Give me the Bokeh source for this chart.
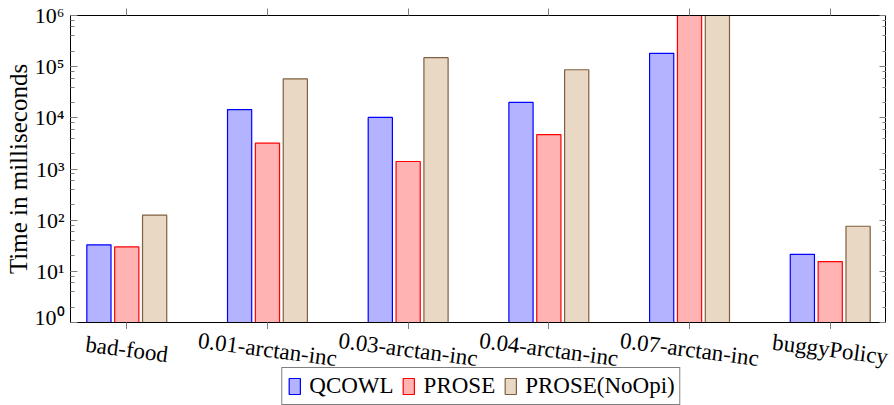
from bokeh.plotting import figure
from bokeh.layouts import column
from bokeh.models import (ColumnDataSource, Range1d, LinearAxis, LogAxis, FixedTicker,
                          LogTicker, CustomJSTickFormatter, Legend, LegendItem)
from bokeh.core.properties import value
from bokeh.transform import dodge
from bokeh.embed import file_html
from bokeh.resources import INLINE

categories = ["bad-food", "0.01-arctan-inc", "0.03-arctan-inc", "0.04-arctan-inc",
              "0.07-arctan-inc", "buggyPolicy"]
qcowl = [33, 14500, 10200, 20000, 182000, 21.5]
prose = [30, 3200, 1400, 4700, 1000000, 15.5]
prose_noopi = [125, 57500, 150000, 87000, 1000000, 76]
series_names = ["QCOWL", "PROSE", "PROSE(NoOpi)"]

FONT = "Liberation Serif"
FILL = ["#b3b3ff", "#ffb3b3", "#e9d8c4"]
LINE = ["#0000ff", "#ff0000", "#7f5f3f"]
FIELDS = ["qcowl", "prose", "noopi"]
OFFSETS = [-0.198, 0.0, 0.198]

src = ColumnDataSource(dict(
    x=list(range(len(categories))),
    cat=categories,
    qcowl=qcowl, prose=prose, noopi=prose_noopi,
))

FW = 816
xr = Range1d(-0.4, len(categories) - 0.6)

p = figure(frame_width=FW, frame_height=307, y_axis_type="log",
           x_range=xr, y_range=Range1d(1, 1e6),
           output_backend="svg", toolbar_location=None,
           min_border_left=70, min_border_right=0, min_border_top=15, min_border_bottom=0)

bw = 0.172
for i in range(3):
    p.vbar(x=dodge("x", OFFSETS[i]), top=FIELDS[i], bottom=1, width=bw, source=src,
           fill_color=FILL[i], line_color=LINE[i], line_width=1.2)

p.xgrid.visible = False
p.ygrid.visible = False
p.outline_line_color = "black"

sup_fmt = CustomJSTickFormatter(code="""
const sup = ["\u2070","\u00b9","\u00b2","\u00b3","\u2074","\u2075","\u2076","\u2077","\u2078","\u2079"];
const e = Math.round(Math.log10(tick));
return "10" + sup[e];
""")
blank_fmt = CustomJSTickFormatter(code="return '';")

xa = p.xaxis[0]
xa.ticker = FixedTicker(ticks=list(range(len(categories))))
xa.formatter = blank_fmt
xa.minor_tick_line_color = None
xa.major_tick_in = 0
xa.major_tick_out = 7
xa.major_tick_line_color = "#808080"
xa.axis_line_color = "black"
xa.major_label_standoff = 0

ya = p.yaxis[0]
ya.ticker = LogTicker()
ya.formatter = sup_fmt
ya.major_tick_in = 7
ya.major_tick_out = 0
ya.minor_tick_in = 4
ya.minor_tick_out = 0
ya.major_tick_line_color = "#808080"
ya.minor_tick_line_color = "#808080"
ya.axis_line_color = "black"
ya.major_label_text_font = FONT
ya.major_label_text_font_size = "22px"
ya.major_label_text_color = "black"
ya.major_label_standoff = 6
ya.axis_label = "Time in milliseconds"
ya.axis_label_text_font = FONT
ya.axis_label_text_font_size = "25px"
ya.axis_label_text_font_style = "normal"
ya.axis_label_text_color = "black"
ya.axis_label_standoff = 0

top = LinearAxis(ticker=FixedTicker(ticks=list(range(len(categories)))),
                 formatter=blank_fmt, major_tick_in=0, major_tick_out=7,
                 major_tick_line_color="#808080", minor_tick_line_color=None,
                 axis_line_color="black", major_label_standoff=0)
p.add_layout(top, "above")
right = LogAxis(ticker=LogTicker(), formatter=blank_fmt,
                major_tick_in=7, major_tick_out=0, minor_tick_in=4, minor_tick_out=0,
                major_tick_line_color="#808080", minor_tick_line_color="#808080",
                axis_line_color="black", major_label_standoff=0)
p.add_layout(right, "right")

# lower strip: rotated category labels + legend (same x scale, a few px wider)
H2 = 76
EXTRA = 6
xr2 = Range1d(xr.start, xr.end + EXTRA * (xr.end - xr.start) / FW)
p2 = figure(frame_width=FW + EXTRA, frame_height=H2, x_range=xr2, y_range=Range1d(0, H2),
            output_backend="svg", toolbar_location=None,
            x_axis_location=None, y_axis_location=None,
            min_border_left=70, min_border_right=0, min_border_top=0, min_border_bottom=0)
p2.outline_line_color = None
p2.xgrid.visible = False
p2.ygrid.visible = False
p2.text(x="x", y=H2 - 20, text="cat", source=src, angle=-0.13,
        text_align="center", text_baseline="middle",
        text_font=value(FONT), text_font_size="23px", text_color="black")

# legend proxies: same data, not drawn (legend only)
proxies = [p2.vbar(x=dodge("x", OFFSETS[i]), top=FIELDS[i], bottom=1, width=bw, source=src,
                   fill_color=FILL[i], line_color=LINE[i], line_width=1.2, visible=False)
           for i in range(3)]
legend = Legend(items=[LegendItem(label=series_names[i], renderers=[proxies[i]]) for i in range(3)],
                orientation="horizontal", location="bottom",
                label_text_font=FONT, label_text_font_size="23px", label_text_color="black",
                glyph_width=14, glyph_height=20, spacing=8, label_standoff=8,
                padding=5, margin=0, border_line_color="black", border_line_width=1,
                background_fill_alpha=1.0, click_policy="none")
p2.add_layout(legend, "center")

layout = column(p, p2, spacing=0)
open("out.html", "w", encoding="utf-8").write(file_html(layout, INLINE))
